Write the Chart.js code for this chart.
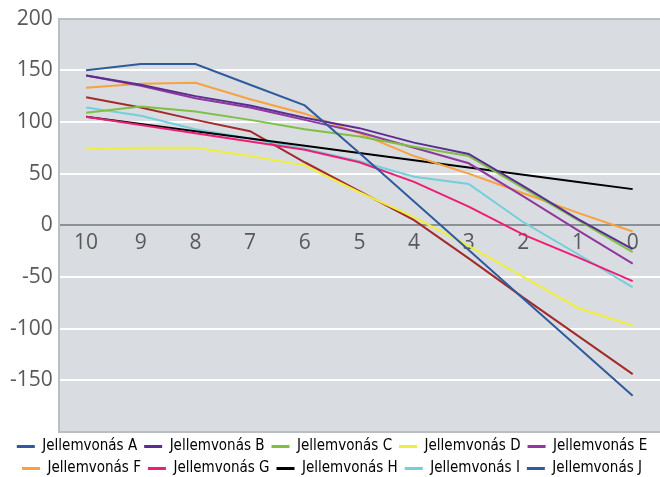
<!DOCTYPE html>
<html>
<head>
<meta charset="utf-8">
<script src="https://cdn.jsdelivr.net/npm/chart.js@4"></script>
<style>
    body { margin: 0; background: #ffffff; }
    #wrap { width: 660px; height: 477px; position: relative; }
</style>
</head>
<body>
<div id="wrap"><canvas id="lineChart"></canvas></div>
<script>
// Data
const xLabels = ['10', '9', '8', '7', '6', '5', '4', '3', '2', '1', '0'];
const seriesNames = ['Jellemvonás A', 'Jellemvonás B', 'Jellemvonás C', 'Jellemvonás D', 'Jellemvonás E',
    'Jellemvonás F', 'Jellemvonás G', 'Jellemvonás H', 'Jellemvonás I', 'Jellemvonás J'];
const seriesA = [150, 156, 156, 136, 116, 70, 23, -24, -71, -118, -165];
const seriesB = [145, 136, 125, 116, 104, 94, 80, 69, 38, 6, -23];
const seriesC = [109, 115, 110, 102, 93, 86, 76, 67, 36, 5, -26];
const seriesD = [74, 75, 75, 67, 58, 32, 8, -20, -50, -80, -97];
const seriesE = [145, 135, 123, 114, 102, 90, 75, 60, 28, -5, -37];
const seriesF = [133, 137, 138, 122, 108, 89, 67, 50, 31, 12, -6];
const seriesG = [105, 97, 89, 81, 73, 61, 42, 18, -9, -31, -54];
const seriesH = [105, 98, 91, 84, 77, 70, 63, 56, 49, 42, 35];
const seriesI = [114, 106, 93, 84, 74, 62, 47, 40, 3, -28, -60];
const seriesJ = [124, 114, 102, 91, 61, 33, 5, -32, -70, -107, -144];

const allSeries = [seriesA, seriesB, seriesC, seriesD, seriesE, seriesF, seriesG, seriesH, seriesI, seriesJ];
const lineColors = ['#2f5b9c', '#5c2d91', '#7dc142', '#f0ee3c', '#90389c',
    '#f7a23c', '#ec1f74', '#000000', '#72cfdc', '#a3292b'];
// the legend swatch of J is blue in the original even though its line is dark red
const legendColors = ['#2f5b9c', '#5c2d91', '#7dc142', '#f0ee3c', '#90389c',
    '#f7a23c', '#ec1f74', '#000000', '#72cfdc', '#2f5b9c'];

// Grey plot background
const plotBg = {
    id: 'plotBg',
    beforeDraw(chart) {
        const { ctx, chartArea: a } = chart;
        ctx.save();
        ctx.fillStyle = '#d9dde1';
        ctx.fillRect(a.left, a.top, a.right - a.left, a.bottom - a.top);
        ctx.restore();
    }
};

const datasets = allSeries.map((data, i) => ({
    label: seriesNames[i],
    data: data,
    borderColor: lineColors[i],
    backgroundColor: lineColors[i],
    borderWidth: 2,
    fill: false,
    tension: 0,
    pointRadius: 0
}));

new Chart(document.getElementById('lineChart').getContext('2d'), {
    type: 'line',
    data: { labels: xLabels, datasets: datasets },
    plugins: [plotBg],
    options: {
        responsive: true,
        maintainAspectRatio: false,
        animation: false,
        layout: { padding: { top: 8, left: 4, right: 0, bottom: -9 } },
        plugins: {
            tooltip: { enabled: false },
            legend: {
                position: 'bottom',
                labels: {
                    color: '#333333',
                    font: { family: "'Liberation Sans Narrow', 'DejaVu Sans Condensed', 'Liberation Sans', sans-serif", size: 15 },
                    boxWidth: 18,
                    boxHeight: 3,
                    padding: 7,
                    generateLabels(chart) {
                        return chart.data.datasets.map((ds, i) => ({
                            text: ds.label,
                            fillStyle: legendColors[i],
                            strokeStyle: legendColors[i],
                            lineWidth: 0,
                            hidden: false,
                            datasetIndex: i
                        }));
                    }
                }
            }
        },
        scales: {
            x: {
                type: 'category',
                offset: true,
                position: { y: 0 },
                grid: { display: false },
                border: { display: true, color: '#8c9196', width: 2 },
                ticks: {
                    color: '#595959',
                    font: { family: 'Open Sans', size: 21 },
                    padding: -3
                }
            },
            y: {
                min: -200,
                max: 200,
                grid: {
                    drawTicks: false,
                    lineWidth: 2,
                    color: (ctx) => {
                        const v = ctx.tick.value;
                        if (v === 0) return 'rgba(0,0,0,0)';
                        if (v === 200 || v === -200) return '#b9bec3';
                        return '#ffffff';
                    }
                },
                border: { display: true, color: '#b9bec3', width: 2 },
                ticks: {
                    stepSize: 50,
                    color: '#595959',
                    font: { family: 'Open Sans', size: 21 },
                    padding: 6,
                    callback: (v) => (v === -200 ? '' : v)
                }
            }
        }
    }
});
</script>
</body>
</html>
